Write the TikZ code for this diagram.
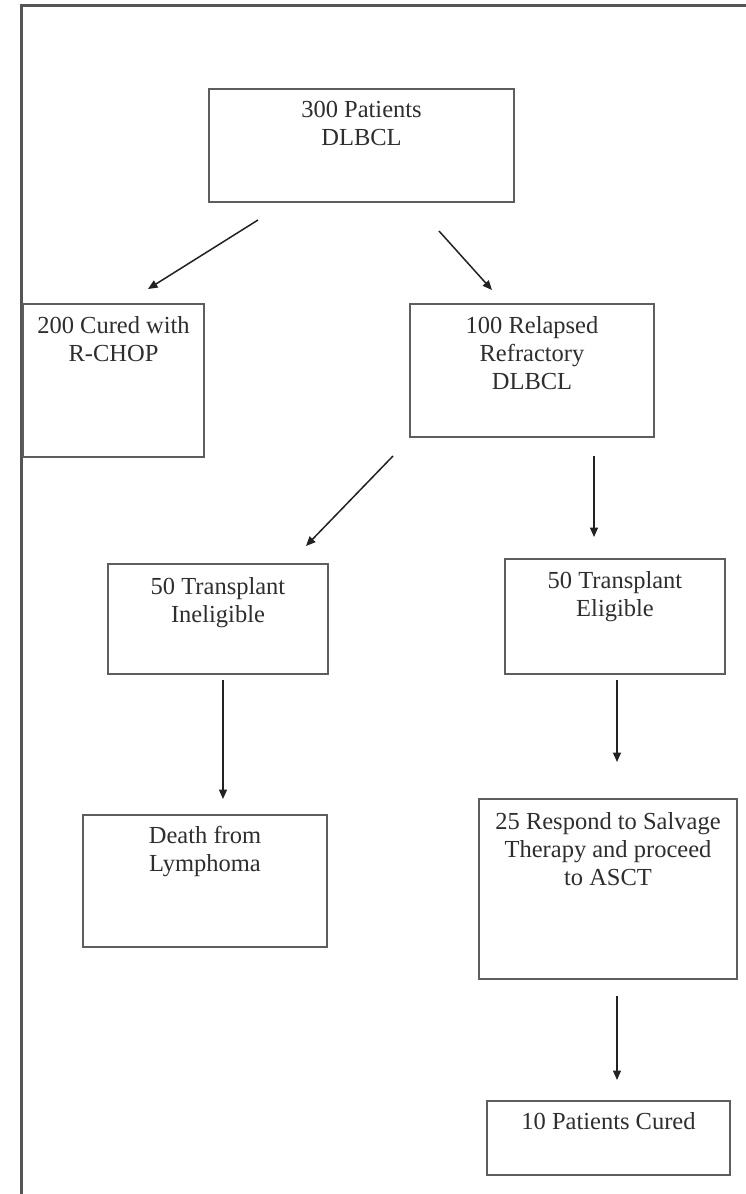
\documentclass[tikz,border=0pt]{standalone}
\usepackage{fontspec}
\setmainfont{Liberation Serif}
\usetikzlibrary{arrows.meta}
\definecolor{boxline}{HTML}{5E5E5E}
\definecolor{frameline}{HTML}{555555}
\definecolor{inkcol}{HTML}{2E2E2E}
\definecolor{arrowcol}{HTML}{222222}
\tikzset{
  stepbox/.style={draw=boxline, line width=2pt, anchor=north west, inner sep=0pt},
  boxtext/.style={anchor=north, align=center, inner sep=0pt, text=inkcol,
    font=\fontsize{24.5}{28}\selectfont},
  flowarrow/.style={draw=arrowcol, line width=1.5pt,
    -{Triangle[length=9.5pt,width=8pt]}},
}
\begin{document}
\begin{tikzpicture}[x=1pt,y=-1pt]
  \useasboundingbox[fill=white] (0,0) rectangle (746,1194);
  % outer frame (top and left edges)
  \draw[frameline, line width=2.6pt] (21.5,1194) -- (21.5,5.5) -- (746,5.5);

  % boxes
  \node[stepbox, minimum width=305pt, minimum height=113pt] (total) at (208,88) {};
  \node[stepbox, minimum width=181pt, minimum height=153pt] (cured) at (22,303) {};
  \node[stepbox, minimum width=244pt, minimum height=133pt] (relapsed) at (409,303) {};
  \node[stepbox, minimum width=220pt, minimum height=110pt] (inelig) at (107,563) {};
  \node[stepbox, minimum width=220pt, minimum height=115pt] (elig) at (504,558) {};
  \node[stepbox, minimum width=244pt, minimum height=132pt] (death) at (82,814) {};
  \node[stepbox, minimum width=258pt, minimum height=180pt] (salvage) at (478,798) {};
  \node[stepbox, minimum width=243pt, minimum height=74pt] (curedten) at (486,1100) {};

  % box texts
  \node[boxtext] (totalT) at ([yshift=-13pt]total.north) {300 Patients\\DLBCL};
  \node[boxtext] (curedT) at ([yshift=-13pt]cured.north) {200 Cured with\\R-CHOP};
  \node[boxtext] (relapsedT) at ([yshift=-13pt]relapsed.north) {100 Relapsed\\Refractory\\DLBCL};
  \node[boxtext] (ineligT) at ([yshift=-14.5pt]inelig.north) {50 Transplant\\Ineligible};
  \node[boxtext] (eligT) at ([yshift=-13pt]elig.north) {50 Transplant\\Eligible};
  \node[boxtext] (deathT) at ([yshift=-12.5pt]death.north) {Death from\\Lymphoma};
  \node[boxtext] (salvageT) at ([yshift=-14.5pt]salvage.north) {25 Respond to Salvage\\Therapy and proceed\\to ASCT};
  \node[boxtext] (curedtenT) at ([yshift=-12.5pt]curedten.north) {10 Patients Cured};

  % arrow end points
  \coordinate (a1s) at (258,220);  \coordinate (a1e) at (148,289);
  \coordinate (a2s) at (439,231);  \coordinate (a2e) at (492,290);
  \coordinate (a3s) at (393,456);  \coordinate (a3e) at (306,546);
  \coordinate (a4s) at (594,456);  \coordinate (a4e) at (594,537);
  \coordinate (a5s) at (223,680);  \coordinate (a5e) at (223,799);
  \coordinate (a6s) at (617,680);  \coordinate (a6e) at (617,762);
  \coordinate (a7s) at (617,996);  \coordinate (a7e) at (617,1080);

  % arrows
  \draw[flowarrow] (a1s) -- (a1e);
  \draw[flowarrow] (a2s) -- (a2e);
  \draw[flowarrow] (a3s) -- (a3e);
  \draw[flowarrow] (a4s) -- (a4e);
  \draw[flowarrow] (a5s) -- (a5e);
  \draw[flowarrow] (a6s) -- (a6e);
  \draw[flowarrow] (a7s) -- (a7e);
\end{tikzpicture}
\end{document}
